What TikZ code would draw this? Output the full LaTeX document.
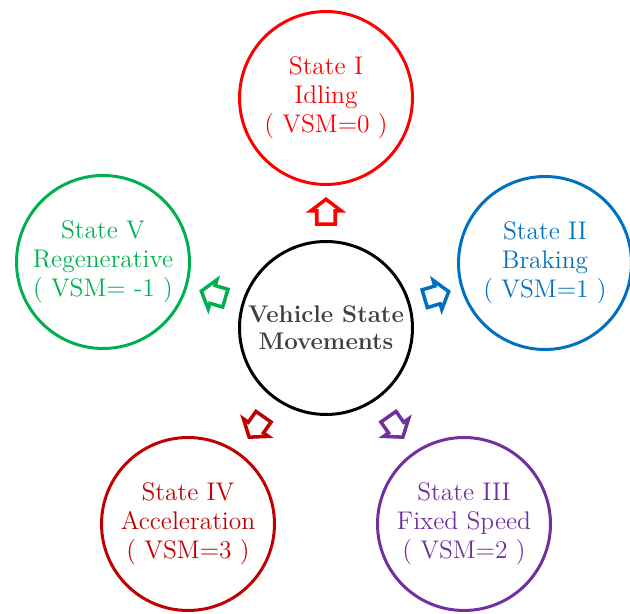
\documentclass[tikz,border=0pt]{standalone}
\usetikzlibrary{shapes.arrows, positioning}
\definecolor{stRed}{RGB}{255,0,0}
\definecolor{stBlue}{RGB}{0,112,192}
\definecolor{stGreen}{RGB}{0,176,80}
\definecolor{stDarkRed}{RGB}{192,0,0}
\definecolor{stPurple}{RGB}{112,48,160}
\definecolor{hubText}{RGB}{64,64,64}
\begin{document}
\begin{tikzpicture}[
    x=0.02cm, y=-0.02cm,
    state/.style={circle, draw, line width=1.7pt, minimum size=3.46cm, inner sep=0pt,
                  align=center, font=\fontsize{14.5}{16.5}\selectfont},
    hub/.style={state, draw=black, text=hubText,
                font=\fontsize{13.7}{15.5}\selectfont\bfseries},
    pointer/.style={single arrow, draw, line width=2pt, inner xsep=0pt, inner ysep=0.15cm,
                    minimum height=0.5cm,
                    single arrow head extend=0.12cm, single arrow tip angle=105,
                    sloped, allow upside down, pos=0.49}
]
\useasboundingbox (0,0) rectangle (630,614);
% --- Nodo central ---
\node[hub] (vsm) at (326,328) {Vehicle State\\Movements};
% --- Estados ---
\node[state, draw=stRed, text=stRed] (idle) at (326,98) {State I\\Idling\\( VSM=0 )};
\node[state, draw=stBlue, text=stBlue] (brake) at (545,263) {State II\\Braking\\( VSM=1 )};
\node[state, draw=stPurple, text=stPurple] (fixed) at (464,524) {State III\\Fixed Speed\\( VSM=2 )};
\node[state, draw=stDarkRed, text=stDarkRed] (accel) at (188,524) {State IV\\Acceleration\\( VSM=3 )};
\node[state, draw=stGreen, text=stGreen] (regen) at (103,262) {State V\\Regenerative\\( VSM= -1 )};
% --- Flechas ---
\foreach \s/\c in {idle/stRed, brake/stBlue, fixed/stPurple, accel/stDarkRed, regen/stGreen}
    \path (vsm.center) -- (\s.center) node[pointer, draw=\c] {};
\end{tikzpicture}
\end{document}
